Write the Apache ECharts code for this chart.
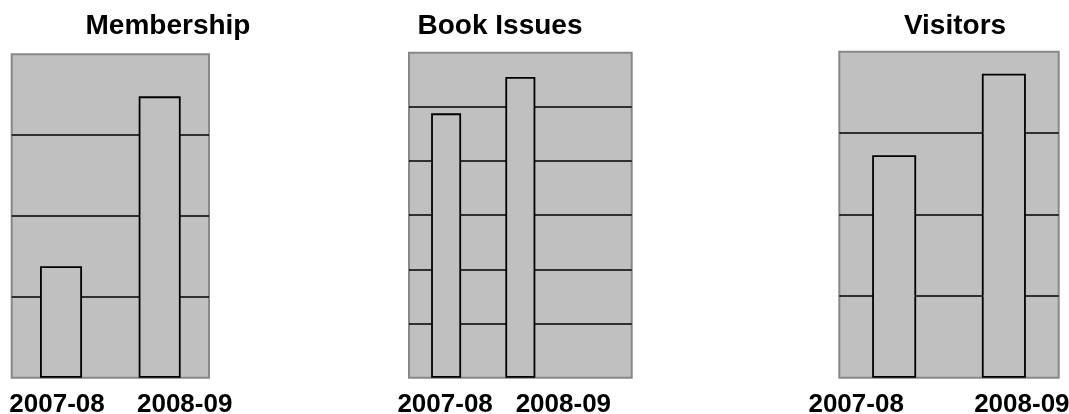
<!DOCTYPE html>
<html>
<head>
<meta charset="utf-8">
<script src="https://cdn.jsdelivr.net/npm/echarts@6/dist/echarts.min.js"></script>
<style>
html,body{margin:0;padding:0;background:#fff;}
#chart{width:1069px;height:414px;}
</style>
</head>
<body>
<div id="chart"></div>
<script>
const titles = ['Membership', 'Book Issues', 'Visitors'];
const membershipCategories = ['2007-08', '2008-09'];
const membershipValues = [1380, 3480];
const bookIssuesCategories = ['2007-08', '2008-09', ''];
const bookIssuesValues = [48800, 55500, null];
const visitorsCategories = ['2007-08', '2008-09'];
const visitorsValues = [27300, 37300];
const yMax = [4000, 60000, 40000];
const yInterval = [1000, 10000, 10000];

const FONT = '"Liberation Sans", Arial, Helvetica, sans-serif';
const grids = [
  {left: 11.7, top: 54.3, width: 197.3, height: 323.4},
  {left: 409, top: 52.7, width: 222.7, height: 325},
  {left: 839.3, top: 51.7, width: 219.4, height: 326}
];
const titleCenters = [168, 500, 955];
const barWidths = [42, 30, 44];
// horizontal offsets of the category labels from their ticks (px)
const labelShift = [[-4, 25], [-1, 43], [-38, 18]];
const catsList = [membershipCategories, bookIssuesCategories, visitorsCategories];
const valsList = [membershipValues, bookIssuesValues, visitorsValues];

function richFor(i) {
  const r = {};
  labelShift[i].forEach((d, k) => {
    r['l' + k] = {
      fontFamily: FONT, fontSize: 26, fontWeight: 'bold', color: '#000',
      padding: [0, Math.max(0, -2 * d), 0, Math.max(0, 2 * d)]
    };
  });
  return r;
}

const option = {
  animation: false,
  backgroundColor: '#fff',
  title: titles.map((t, i) => ({
    text: t,
    left: titleCenters[i],
    top: 12,
    padding: 0,
    textAlign: 'center',
    textStyle: {fontFamily: FONT, fontSize: 28, fontWeight: 'bold', color: '#000'}
  })),
  grid: grids.map(g => Object.assign({
    show: true, backgroundColor: '#c0c0c0', borderColor: '#888888', borderWidth: 2,
    containLabel: false, outerBoundsMode: 'none'
  }, g)),
  xAxis: catsList.map((c, i) => ({
    type: 'category', gridIndex: i, data: c,
    axisLine: {show: false}, axisTick: {show: false},
    axisLabel: {
      interval: 0, margin: 14,
      formatter: (v, idx) => v ? '{l' + idx + '|' + v + '}' : '',
      rich: richFor(i)
    }
  })),
  yAxis: yMax.map((m, i) => ({
    type: 'value', gridIndex: i, min: 0, max: m, interval: yInterval[i],
    axisLine: {show: false}, axisTick: {show: false}, axisLabel: {show: false},
    splitLine: {show: true, showMinLine: false, showMaxLine: false, lineStyle: {color: '#000', width: 1.6}}
  })),
  series: valsList.map((v, i) => ({
    type: 'bar', xAxisIndex: i, yAxisIndex: i, data: v, barWidth: barWidths[i],
    itemStyle: {color: '#c0c0c0', borderColor: '#000', borderWidth: 1.8}
  }))
};

const chart = echarts.init(document.getElementById('chart'), null, {renderer: 'canvas'});
chart.setOption(option);
</script>
</body>
</html>
